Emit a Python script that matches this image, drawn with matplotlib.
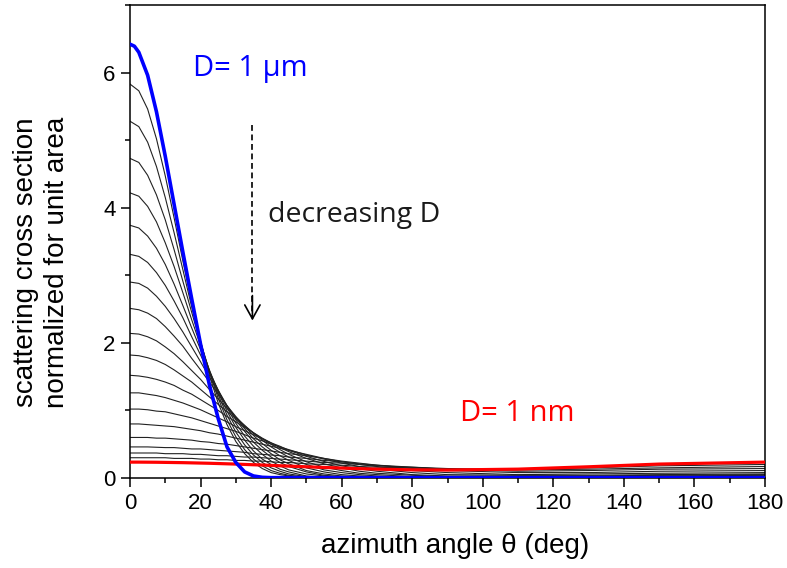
import matplotlib
matplotlib.use("Agg")
import matplotlib.pyplot as plt
from matplotlib.ticker import MultipleLocator

# ---------------- data ----------------
theta = [0, 2.5, 5, 7.5, 10, 12.5, 15, 17.5, 20, 22.5, 25, 27.5, 30, 32.5, 35, 37.5,
         40, 42.5, 45, 50, 55, 60, 65, 70, 80, 90, 110, 130, 150, 180]

blue_theta = [0, 1.25, 2.5, 5, 7.5, 10, 12.5, 15, 17.5, 20, 22.5, 25, 27.5, 30, 32.5,
              35, 37.5, 40, 50, 60, 80, 100, 120, 140, 160, 180]
blue_1um = [6.42, 6.39, 6.30, 5.96, 5.42, 4.76, 4.05, 3.34, 2.65, 1.98, 1.38, 0.88,
            0.46, 0.23, 0.09, 0.03, 0.01, 0.005, 0.005, 0.005, 0.005, 0.005, 0.005,
            0.005, 0.005, 0.005]

black_1 = [5.83, 5.73, 5.46, 5.02, 4.47, 3.85, 3.21, 2.59, 2.02, 1.52, 1.11, 0.79, 0.54, 0.36, 0.23, 0.14,
           0.08, 0.05, 0.03, 0.01, 0, 0, 0, 0, 0, 0, 0, 0, 0, 0]
black_2 = [5.28, 5.20, 4.97, 4.61, 4.15, 3.63, 3.08, 2.53, 2.02, 1.57, 1.18, 0.86, 0.61, 0.42, 0.28, 0.18,
           0.11, 0.07, 0.04, 0.01, 0, 0, 0, 0, 0, 0, 0, 0, 0, 0]
black_3 = [4.73, 4.67, 4.48, 4.19, 3.82, 3.38, 2.91, 2.45, 2.00, 1.59, 1.23, 0.93, 0.68, 0.49, 0.34, 0.23,
           0.15, 0.10, 0.06, 0.02, 0.01, 0, 0, 0, 0, 0, 0, 0, 0, 0]
black_4 = [4.22, 4.17, 4.02, 3.79, 3.48, 3.13, 2.74, 2.34, 1.96, 1.60, 1.27, 0.99, 0.75, 0.56, 0.40, 0.28,
           0.20, 0.13, 0.09, 0.03, 0.01, 0, 0, 0, 0, 0, 0, 0, 0, 0]
black_5 = [3.74, 3.70, 3.58, 3.40, 3.16, 2.87, 2.55, 2.22, 1.90, 1.58, 1.30, 1.04, 0.81, 0.62, 0.47, 0.35,
           0.25, 0.18, 0.12, 0.06, 0.03, 0.01, 0.01, 0, 0, 0, 0, 0, 0, 0.01]
black_6 = [3.31, 3.28, 3.19, 3.04, 2.85, 2.62, 2.37, 2.09, 1.82, 1.55, 1.30, 1.07, 0.86, 0.69, 0.53, 0.41,
           0.31, 0.23, 0.17, 0.09, 0.04, 0.02, 0.01, 0.01, 0.01, 0.01, 0.01, 0.01, 0.01, 0.01]
black_7 = [2.90, 2.88, 2.81, 2.69, 2.54, 2.36, 2.16, 1.94, 1.72, 1.49, 1.28, 1.07, 0.89, 0.73, 0.58, 0.46,
           0.36, 0.27, 0.21, 0.11, 0.06, 0.03, 0.02, 0.01, 0.01, 0.01, 0.01, 0.01, 0.01, 0.01]
black_8 = [2.51, 2.49, 2.44, 2.36, 2.24, 2.10, 1.95, 1.77, 1.60, 1.42, 1.24, 1.07, 0.91, 0.76, 0.63, 0.51,
           0.41, 0.33, 0.26, 0.15, 0.09, 0.05, 0.03, 0.02, 0.01, 0.01, 0.01, 0.01, 0.01, 0.02]
black_9 = [2.14, 2.13, 2.09, 2.03, 1.94, 1.84, 1.72, 1.59, 1.46, 1.31, 1.17, 1.03, 0.90, 0.78, 0.66, 0.56,
           0.46, 0.38, 0.31, 0.20, 0.12, 0.08, 0.05, 0.03, 0.01, 0.01, 0.01, 0.01, 0.02, 0.02]
black_10 = [1.82, 1.81, 1.78, 1.74, 1.68, 1.60, 1.51, 1.42, 1.31, 1.20, 1.09, 0.98, 0.88, 0.77, 0.67, 0.58,
            0.50, 0.42, 0.35, 0.24, 0.16, 0.11, 0.07, 0.05, 0.02, 0.01, 0.01, 0.02, 0.02, 0.03]
black_11 = [1.52, 1.51, 1.49, 1.46, 1.42, 1.37, 1.30, 1.24, 1.16, 1.08, 1.00, 0.91, 0.83, 0.75, 0.67, 0.59,
            0.52, 0.45, 0.39, 0.29, 0.21, 0.15, 0.10, 0.07, 0.04, 0.02, 0.02, 0.02, 0.03, 0.04]
black_12 = [1.26, 1.26, 1.24, 1.22, 1.19, 1.15, 1.11, 1.06, 1.01, 0.95, 0.89, 0.83, 0.76, 0.70, 0.64, 0.58,
            0.52, 0.47, 0.41, 0.32, 0.245, 0.18, 0.135, 0.10, 0.05, 0.03, 0.03, 0.03, 0.04, 0.05]
black_13 = [1.02, 1.02, 1.01, 0.99, 0.98, 0.95, 0.92, 0.89, 0.85, 0.81, 0.77, 0.73, 0.69, 0.64, 0.59, 0.55,
            0.50, 0.46, 0.42, 0.34, 0.28, 0.22, 0.17, 0.13, 0.08, 0.05, 0.04, 0.04, 0.05, 0.06]
black_14 = [0.80, 0.80, 0.79, 0.78, 0.77, 0.76, 0.74, 0.72, 0.70, 0.67, 0.65, 0.62, 0.59, 0.56, 0.53, 0.50,
            0.47, 0.44, 0.41, 0.35, 0.29, 0.24, 0.20, 0.17, 0.11, 0.08, 0.05, 0.06, 0.07, 0.08]
black_15 = [0.60, 0.60, 0.60, 0.59, 0.59, 0.58, 0.57, 0.56, 0.54, 0.53, 0.51, 0.50, 0.48, 0.46, 0.44, 0.42,
            0.40, 0.38, 0.36, 0.33, 0.29, 0.25, 0.22, 0.19, 0.14, 0.11, 0.08, 0.08, 0.10, 0.11]
black_16 = [0.46, 0.46, 0.46, 0.455, 0.45, 0.45, 0.44, 0.43, 0.43, 0.42, 0.41, 0.40, 0.39, 0.38, 0.36, 0.35,
            0.34, 0.33, 0.31, 0.29, 0.26, 0.24, 0.21, 0.19, 0.16, 0.13, 0.10, 0.11, 0.13, 0.14]
black_17 = [0.37, 0.37, 0.37, 0.37, 0.36, 0.36, 0.36, 0.35, 0.35, 0.34, 0.33, 0.33, 0.32, 0.31, 0.31, 0.30,
            0.29, 0.28, 0.27, 0.25, 0.23, 0.22, 0.20, 0.18, 0.16, 0.14, 0.12, 0.13, 0.15, 0.17]
black_18 = [0.30, 0.30, 0.30, 0.30, 0.30, 0.29, 0.29, 0.29, 0.28, 0.28, 0.27, 0.27, 0.26, 0.26, 0.25, 0.25,
            0.24, 0.23, 0.23, 0.21, 0.20, 0.19, 0.17, 0.16, 0.15, 0.13, 0.13, 0.15, 0.18, 0.20]

red_1nm = [0.235, 0.235, 0.234, 0.233, 0.231, 0.229, 0.227, 0.224, 0.221, 0.218, 0.214, 0.210, 0.206,
           0.201, 0.196, 0.192, 0.186, 0.181, 0.176, 0.166, 0.156, 0.147, 0.138, 0.131, 0.121, 0.118,
           0.131, 0.166, 0.206, 0.235]

black_curves = [black_1, black_2, black_3, black_4, black_5, black_6, black_7, black_8,
                black_9, black_10, black_11, black_12, black_13, black_14, black_15,
                black_16, black_17, black_18]

x_ticks = [0, 20, 40, 60, 80, 100, 120, 140, 160, 180]
y_ticks = [0, 2, 4, 6]

# ---------------- figure ----------------
fig = plt.figure(figsize=(7.87, 5.68), dpi=100)
ax = fig.add_axes([130 / 787, (568 - 478) / 568, (765 - 130) / 787, (478 - 5) / 568])

for c in black_curves:
    ax.plot(theta, c, color="#222222", lw=0.8, zorder=2)
ax.plot(theta, red_1nm, color="#ff0000", lw=2.3, zorder=3)
ax.plot(blue_theta, blue_1um, color="#0000ff", lw=2.6, zorder=4)

ax.set_xlim(0, 180)
ax.set_ylim(0, 7)
ax.set_xticks(x_ticks)
ax.set_yticks(y_ticks)
ax.xaxis.set_minor_locator(MultipleLocator(10))
ax.yaxis.set_minor_locator(MultipleLocator(1))

tick_font = "Liberation Sans"
ax.tick_params(which="major", direction="out", length=6.5, width=1.1,
               labelsize=16, top=False, right=False, pad=4)
ax.tick_params(which="minor", direction="out", length=3.6, width=1.1,
               top=False, right=False)
for lab in ax.get_xticklabels() + ax.get_yticklabels():
    lab.set_fontfamily(tick_font)
for s in ax.spines.values():
    s.set_linewidth(1.1)

fig.text(455 / 787, 1 - 546 / 568, "azimuth angle θ (deg)", ha="center", va="center",
         fontsize=20, family=tick_font)
fig.text(42 / 787, 1 - 262 / 568, "scattering cross section\nnormalized for unit area",
         ha="center", va="center", rotation=90, fontsize=20, family=tick_font,
         linespacing=1.25)

ax.text(17.9, 6.06, "D= 1 μm", color="#0000ff", fontsize=21, family="Open Sans",
        ha="left", va="center")
ax.text(39.1, 3.89, "decreasing D", color="#1a1a1a", fontsize=20.5, family="Open Sans",
        ha="left", va="center")
ax.text(93.5, 0.95, "D= 1 nm", color="#ff0000", fontsize=21, family="Open Sans",
        ha="left", va="center")

# dashed arrow
ax.plot([34.7, 34.7], [5.22, 2.40], color="black", lw=1.2, linestyle=(0, (3.5, 2.2)))
ax.annotate("", xy=(34.7, 2.33), xytext=(34.7, 2.7),
            arrowprops=dict(arrowstyle="->,head_length=1.0,head_width=0.55",
                            color="black", lw=1.2, shrinkA=0, shrinkB=0))

fig.savefig("out.png", dpi=100)
